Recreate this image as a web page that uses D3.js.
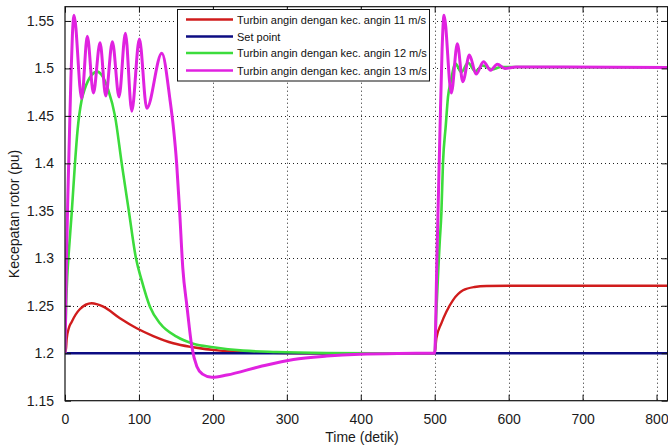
<!DOCTYPE html>
<html>
<head>
<meta charset="utf-8">
<script src="https://cdn.jsdelivr.net/npm/d3@7"></script>
<style>
  html, body { margin: 0; padding: 0; background: #fff; }
  svg { display: block; font-family: "Liberation Sans", Arial, sans-serif; }
</style>
</head>
<body>
<svg id="chart" width="668" height="445"></svg>
<script>
// Rotor speed response (pu) over time for three wind speeds and the set point
const xTicks = [0, 100, 200, 300, 400, 500, 600, 700, 800];
const yTicks = [1.15, 1.2, 1.25, 1.3, 1.35, 1.4, 1.45, 1.5, 1.55];
const yTickLabels = ["1.15", "1.2", "1.25", "1.3", "1.35", "1.4", "1.45", "1.5", "1.55"];

const seriesNames = [
  "Turbin angin dengan kec. angin 11 m/s",
  "Set point",
  "Turbin angin dengan kec. angin 12 m/s",
  "Turbin angin dengan kec. angin 13 m/s"
];

// 11 m/s
const t11 = [0, 1.4, 2.3, 5, 9, 20, 36, 51.8, 74.3, 96.9, 119.4, 146.4, 173.4, 209.5, 245.6, 281.7, 330, 500,
             502.3, 509, 515.8, 524.8, 538.3, 554, 570, 600, 815];
const v11 = [1.2, 1.205, 1.215, 1.226, 1.233, 1.2463, 1.2526, 1.249, 1.2368, 1.2263, 1.2181, 1.2105, 1.2063, 1.2027, 1.201, 1.2004, 1.2, 1.2,
             1.2157, 1.2315, 1.2437, 1.256, 1.2663, 1.2698, 1.2708, 1.271, 1.271];

// Set point
const tSp = [0, 815];
const vSp = [1.2, 1.2];

// 12 m/s
const t12 = [0, 1.5, 3, 5, 9, 13.5, 17, 22.6, 27, 36, 43.7, 49.6, 58.6, 67.6, 76.7, 86.3, 96, 103.6, 114.9, 128.4,
             151, 173.4, 200.4, 241, 286, 354, 420, 500,
             502, 505, 507, 509, 511.2, 515, 518, 522, 528, 536, 545, 555, 565, 577, 590, 815];
const v12 = [1.2, 1.25, 1.28, 1.305, 1.347, 1.40, 1.435, 1.467, 1.479, 1.493, 1.4966, 1.493, 1.477, 1.45, 1.40, 1.35, 1.30, 1.277, 1.249, 1.2315,
             1.2174, 1.210, 1.2063, 1.2027, 1.2013, 1.2003, 1.2, 1.2,
             1.24, 1.29, 1.32, 1.347, 1.40, 1.44, 1.47, 1.487, 1.505, 1.496, 1.506, 1.497, 1.503, 1.499, 1.5015, 1.501];

// 13 m/s
const t13 = [0, 2, 4, 6, 8, 10, 12.2, 22.6, 30.2, 38.4, 47.4, 55.1, 64.1, 73.1, 81.7, 90.3, 100.6, 110.6, 130.9,
             142, 147, 151, 155, 159.3, 165, 171.5, 178.3, 186, 198.6, 219, 264, 309, 354, 399, 450, 500,
             503, 507, 510, 512.6, 522.5, 530.6, 538, 547, 556, 566, 575.7, 584.7, 595, 610, 815];
const v13 = [1.2, 1.30, 1.37, 1.43, 1.49, 1.535, 1.556, 1.468, 1.534, 1.474, 1.527, 1.471, 1.528, 1.470, 1.537, 1.455, 1.531, 1.458, 1.516,
             1.467, 1.435, 1.40, 1.35, 1.29, 1.249, 1.207, 1.186, 1.178, 1.1746, 1.177, 1.186, 1.1935, 1.197, 1.199, 1.1998, 1.2,
             1.30, 1.43, 1.52, 1.556, 1.474, 1.526, 1.486, 1.514, 1.494, 1.507, 1.498, 1.5045, 1.5, 1.5015, 1.501];

const colors = ["#d01c1c", "#0c0c82", "#3cdc3c", "#e022e0"];
const widths = [2.4, 2.6, 2.6, 3];
const seriesT = [t11, tSp, t12, t13];
const seriesV = [v11, vSp, v12, v13];

const svg = d3.select("#chart");
const plot = { left: 65, top: 6.7, right: 667.6, bottom: 400.7 };

const x = d3.scaleLinear().domain([0, 815]).range([plot.left, plot.right]);
const y = d3.scaleLinear().domain([1.15, 1.565]).range([plot.bottom, plot.top]);

svg.append("defs").append("clipPath").attr("id", "plotClip")
  .append("rect")
  .attr("x", plot.left).attr("y", plot.top)
  .attr("width", plot.right - plot.left).attr("height", plot.bottom - plot.top);

// dotted grid
const grid = svg.append("g").attr("stroke", "#222").attr("stroke-width", 1)
  .attr("stroke-dasharray", "1,3").attr("fill", "none");
xTicks.forEach(t => {
  if (t === 0) return;
  grid.append("line").attr("x1", Math.round(x(t)) + 0.5).attr("x2", Math.round(x(t)) + 0.5)
    .attr("y1", plot.top).attr("y2", plot.bottom);
});
yTicks.forEach(v => {
  if (v === 1.15) return;
  grid.append("line").attr("y1", Math.round(y(v)) + 0.5).attr("y2", Math.round(y(v)) + 0.5)
    .attr("x1", plot.left).attr("x2", plot.right);
});

// data lines
const line = d3.line().x(d => x(d[0])).y(d => y(d[1])).curve(d3.curveMonotoneX);
const lines = svg.append("g").attr("clip-path", "url(#plotClip)");
seriesT.forEach((ts, i) => {
  const pts = ts.map((t, j) => [t, seriesV[i][j]]);
  lines.append("path").datum(pts)
    .attr("d", line)
    .attr("fill", "none")
    .attr("stroke", colors[i])
    .attr("stroke-width", widths[i])
    .attr("stroke-linejoin", "round");
});

// axes: bottom/left with labels, top/right ticks only, inward ticks
const tickLen = 6;
const axisBottom = d3.axisBottom(x).tickValues(xTicks).tickSize(-tickLen).tickPadding(tickLen + 7)
  .tickFormat(d3.format("d"));
const axisTop = d3.axisTop(x).tickValues(xTicks).tickSize(-tickLen).tickFormat("");
const axisLeft = d3.axisLeft(y).tickValues(yTicks).tickSize(-tickLen).tickPadding(tickLen + 5)
  .tickFormat((d, i) => yTickLabels[i]);
const axisRight = d3.axisRight(y).tickValues(yTicks).tickSize(-tickLen).tickFormat("");

function styleAxis(g) {
  g.selectAll(".domain").remove();
  g.selectAll(".tick line").attr("stroke", "#111");
  g.selectAll(".tick text").attr("fill", "#1a1a1a").style("font-size", "14px")
    .style("font-family", "'Liberation Sans', Arial, sans-serif");
}
svg.append("g").attr("transform", `translate(0,${plot.bottom})`).call(axisBottom).call(styleAxis);
svg.append("g").attr("transform", `translate(0,${plot.top})`).call(axisTop).call(styleAxis);
svg.append("g").attr("transform", `translate(${plot.left},0)`).call(axisLeft).call(styleAxis);
svg.append("g").attr("transform", `translate(${plot.right},0)`).call(axisRight).call(styleAxis);

// axes box
svg.append("rect")
  .attr("x", plot.left).attr("y", plot.top)
  .attr("width", plot.right - plot.left).attr("height", plot.bottom - plot.top)
  .attr("fill", "none").attr("stroke", "#111").attr("stroke-width", 1.2);

// axis titles
svg.append("text").attr("x", 362).attr("y", 442).attr("text-anchor", "middle")
  .attr("fill", "#1a1a1a").style("font-size", "14px").text("Time (detik)");
svg.append("text").attr("transform", "translate(19,214) rotate(-90)").attr("text-anchor", "middle")
  .attr("fill", "#1a1a1a").style("font-size", "14px").text("Kecepatan rotor (pu)");

// legend
const legend = svg.append("g");
legend.append("rect").attr("x", 177.5).attr("y", 9.5).attr("width", 252).attr("height", 71.5)
  .attr("fill", "#fff").attr("stroke", "#111").attr("stroke-width", 1);
const rowY = [19.5, 36.5, 53, 70.5];
seriesNames.forEach((name, i) => {
  legend.append("line").attr("x1", 186).attr("x2", 233).attr("y1", rowY[i]).attr("y2", rowY[i])
    .attr("stroke", colors[i]).attr("stroke-width", 2.6);
  legend.append("text").attr("x", 237).attr("y", rowY[i] + 4).attr("fill", "#111")
    .style("font-size", "11px").text(name);
});
</script>
</body>
</html>
